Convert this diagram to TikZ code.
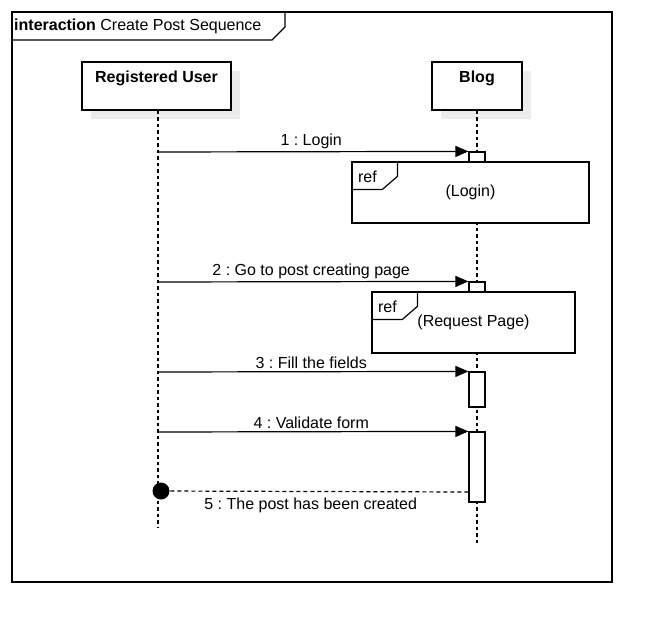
\documentclass[tikz,border=0pt]{standalone}
\usepackage{fontspec}
\setmainfont{Liberation Sans}
\usetikzlibrary{arrows.meta,shadows}
\frenchspacing
\begin{document}
\begin{tikzpicture}[x=1pt,y=-1pt,
  every node/.style={font=\fontsize{16}{19}\selectfont},
  actorbox/.style={draw, fill=white, line width=1.2pt, inner sep=0pt,
    drop shadow={shadow xshift=9pt, shadow yshift=-9pt, fill=gray!15, opacity=1}},
  lifeline/.style={line width=1.2pt, dash pattern=on 3.5pt off 3pt},
  actbox/.style={draw, fill=white, line width=1.2pt, inner sep=0pt, minimum width=16pt},
  refbox/.style={draw, fill=white, line width=1.2pt, inner sep=0pt},
  msg/.style={line width=1.2pt, -{Triangle[length=13pt,width=11pt]}},
  retmsg/.style={line width=1.2pt, dash pattern=on 4pt off 3pt},
  lbl/.style={inner sep=2pt},
  framebox/.style={draw, line width=1.2pt}]
\useasboundingbox (0,0) rectangle (662,632);
% frame
\draw[framebox] (12,12) rectangle (612,582);
\draw[line width=1.2pt] (12,40) -- (272,40) -- (285,27) -- (285,12);
\node[anchor=west, inner sep=0pt] (title) at (14,26.5) {\textbf{interaction} Create Post Sequence};
% actors
\node[actorbox, minimum width=149pt, minimum height=48pt] (user) at (156.5,86) {};
\node[anchor=center, inner sep=0pt] (usert) at (156.5,78.5) {\textbf{Registered User}};
\node[actorbox, minimum width=90pt, minimum height=48pt] (blog) at (477,86) {};
\node[anchor=center, inner sep=0pt] (blogt) at (477,78.5) {\textbf{Blog}};
% lifelines
\coordinate (uend) at (158,528);
\coordinate (bend) at (477,543);
\draw[lifeline] (user.south -| uend) -- (uend);
\draw[lifeline] (blog.south) -- (bend);
% message coordinates on user lifeline
\coordinate (u1) at (158,152);
\coordinate (u2) at (158,282);
\coordinate (u3) at (158,372);
\coordinate (u4) at (158,432);
\coordinate (u5) at (158,492);
% activations
\node[actbox, minimum height=10pt] (act1) at (477,157) {};
\node[actbox, minimum height=10pt] (act2) at (477,287) {};
\node[actbox, minimum height=35pt] (act3) at (477,389.5) {};
\node[actbox, minimum height=70pt] (act4) at (477,467) {};
% ref boxes
\node[refbox, minimum width=237pt, minimum height=61pt] (ref1) at (470.5,192.5) {(Login)};
\draw[line width=1.2pt] (ref1.north west) ++(46,0) -- ++(0,15) -- ++(-15,13) -- ++(-31,0);
\node[inner sep=0pt] (ref1t) at ([shift={(16,15)}]ref1.north west) {ref};
\node[refbox, minimum width=203pt, minimum height=61pt] (ref2) at (473.5,322.5) {(Request Page)};
\draw[line width=1.2pt] (ref2.north west) ++(46,0) -- ++(0,15) -- ++(-15,13) -- ++(-31,0);
\node[inner sep=0pt] (ref2t) at ([shift={(16,15)}]ref2.north west) {ref};
% messages
\draw[msg] (u1) -- node[lbl, above, xshift=-2pt] {1 : Login} (act1.north west);
\draw[msg] (u2) -- node[lbl, above, xshift=-2pt] {2 : Go to post creating page} (act2.north west);
\draw[msg] (u3) -- node[lbl, above, xshift=-2pt] {3 : Fill the fields} (act3.north west);
\draw[msg] (u4) -- node[lbl, above, xshift=-2pt] {4 : Validate form} (act4.north west);
% return
\node[circle, fill=black, inner sep=0pt, minimum size=17pt] (dot) at (161,491) {};
\coordinate (a5) at (act4.west |- u5);
\draw[retmsg] (a5) -- node[lbl, below, xshift=-4pt, yshift=-4pt] {5 : The post has been created} (dot.center);
\end{tikzpicture}
\end{document}
